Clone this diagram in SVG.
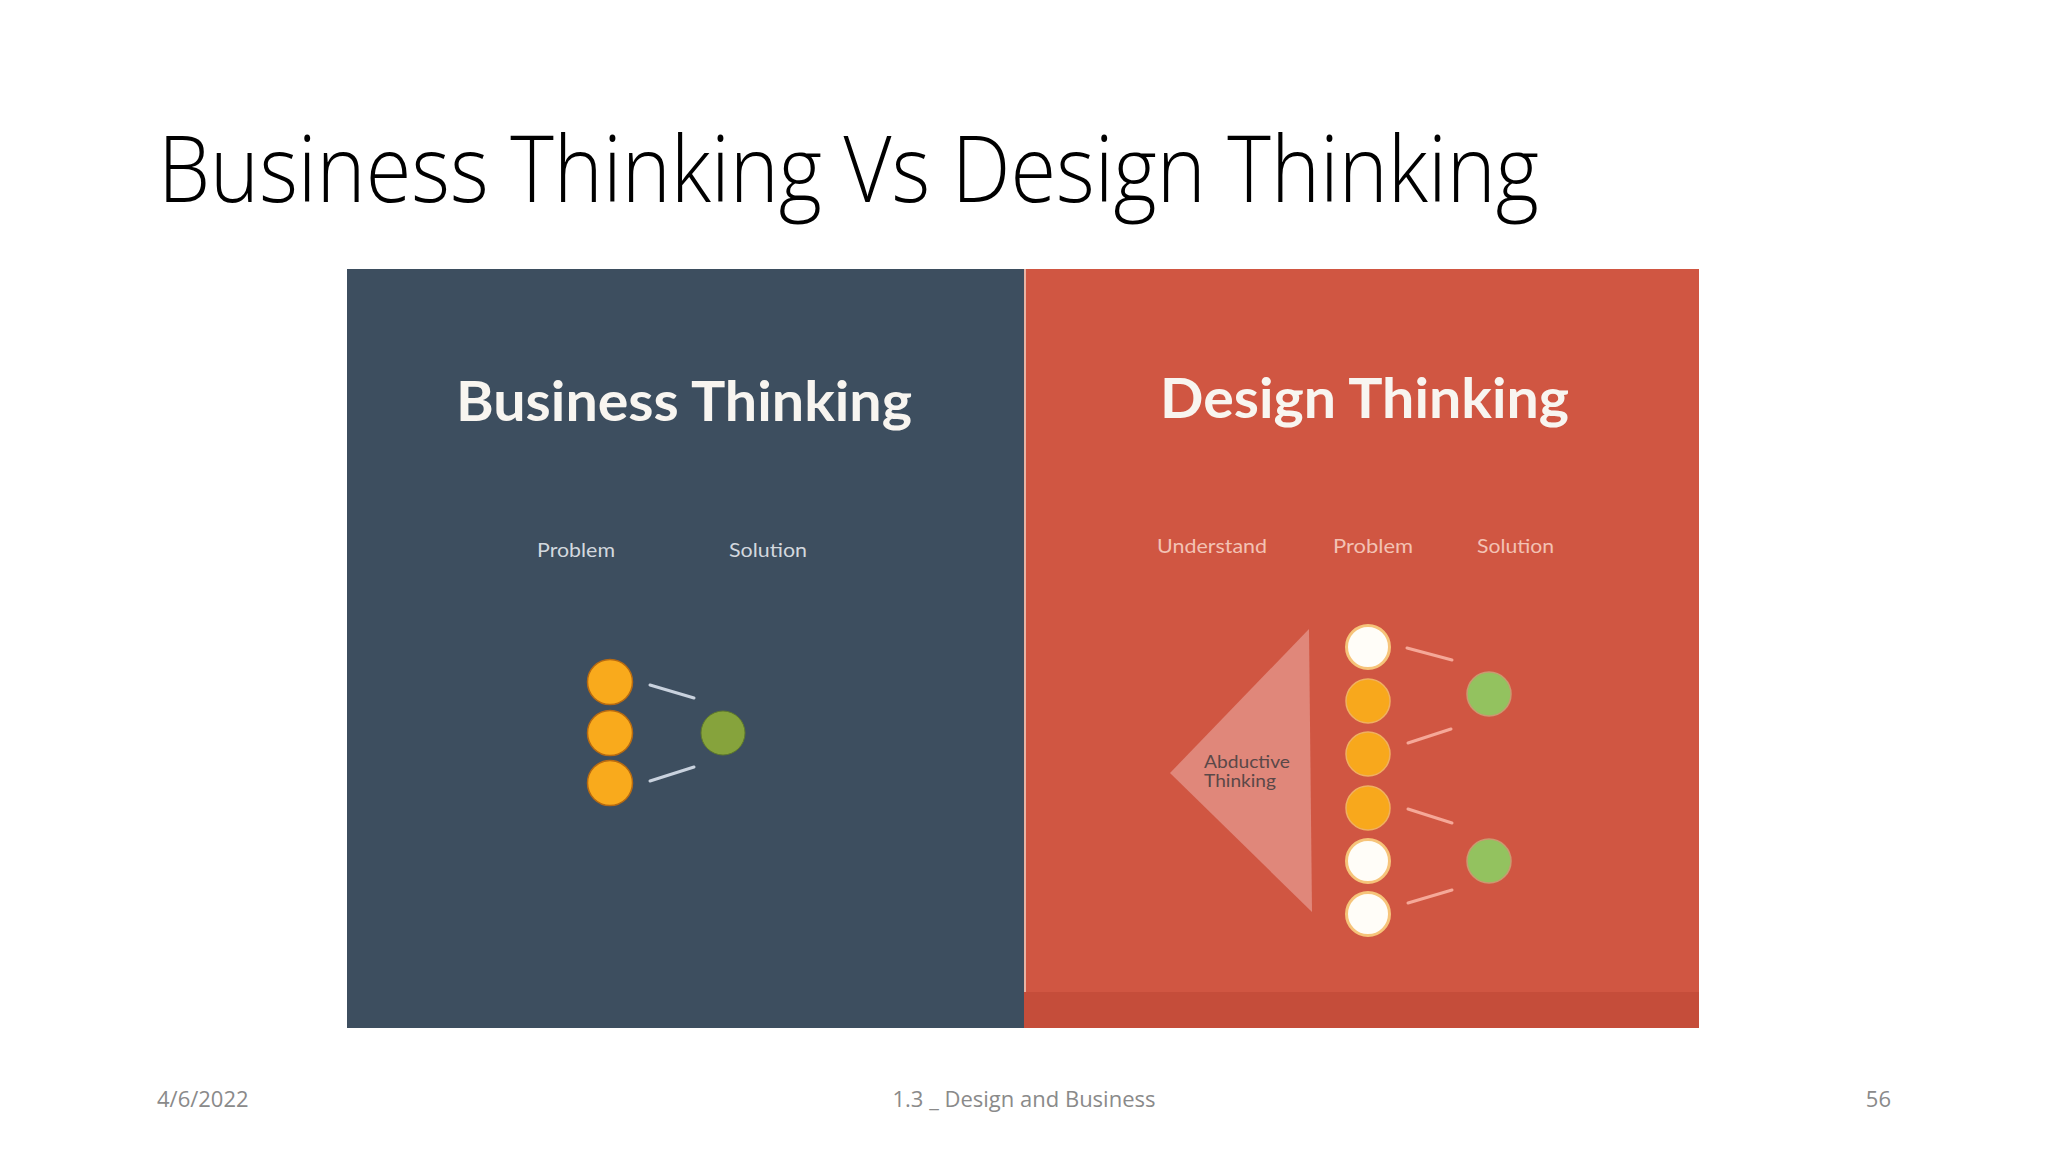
<svg xmlns="http://www.w3.org/2000/svg" width="2048" height="1152" viewBox="0 0 2048 1152">
<style>
.title{font-family:"Open Sans","Liberation Sans",sans-serif;font-weight:300;font-size:92px;fill:#000}
.foot{font-family:"Open Sans","Liberation Sans",sans-serif;font-size:22px;fill:#8a8a8a}
.ptitle{font-family:Lato,"Liberation Sans",sans-serif;font-weight:700;font-size:56px;fill:#f8f5f0}
.lblL{font-family:Lato,"Liberation Sans",sans-serif;font-size:20px;fill:#d3d8de}
.lblR{font-family:Lato,"Liberation Sans",sans-serif;font-size:20px;fill:#f3c2b4}
.orange{fill:#f9aa1c;stroke:#b86a10;stroke-width:1.5}
.orangeR{fill:#f8a81c;stroke:#f0b060;stroke-width:1.5}
.white{fill:#fffdf8;stroke:#f6c47a;stroke-width:3}
.greenL{fill:#86a33c;stroke:#5f7a2a;stroke-width:1}
.greenR{fill:#93c25f;stroke:#c99a70;stroke-width:1.5}
.lnL{stroke:#c9d2de;stroke-width:3;stroke-linecap:round}
.lnR{stroke:#f5a898;stroke-width:3;stroke-linecap:round}
.abd{font-family:Lato,"Liberation Sans",sans-serif;font-size:17px;fill:#5a4848}
</style>
<rect width="2048" height="1152" fill="#ffffff"/>
<g id="title"><text class="title" x="158" y="202" textLength="1381" lengthAdjust="spacingAndGlyphs">Business Thinking Vs Design Thinking</text></g>

<g id="panel-business">
<rect x="347" y="269" width="677" height="759" fill="#3d4e5f"/>
<text class="ptitle" x="456" y="421" textLength="456" lengthAdjust="spacingAndGlyphs">Business Thinking</text>
<text class="lblL" x="537" y="557" textLength="78" lengthAdjust="spacingAndGlyphs">Problem</text>
<text class="lblL" x="729" y="557" textLength="78" lengthAdjust="spacingAndGlyphs">Solution</text>
</g>

<g id="panel-design">
<rect x="1024" y="269" width="675" height="759" fill="#d05642"/>
<rect x="1024" y="992" width="675" height="36" fill="#c54d3a"/>
<line x1="1025" y1="269" x2="1025" y2="992" stroke="#e9b3a3" stroke-width="2"/>
<text class="ptitle" x="1160" y="418" textLength="409" lengthAdjust="spacingAndGlyphs">Design Thinking</text>
<text class="lblR" x="1157" y="553" textLength="110" lengthAdjust="spacingAndGlyphs">Understand</text>
<text class="lblR" x="1333" y="553" textLength="80" lengthAdjust="spacingAndGlyphs">Problem</text>
<text class="lblR" x="1477" y="553" textLength="77" lengthAdjust="spacingAndGlyphs">Solution</text>
</g>

<g id="node-abductive">
<polygon points="1170,773 1309,629 1312,912" fill="#e0877a"/>
<text class="abd" x="1204" y="768" textLength="86" lengthAdjust="spacingAndGlyphs">Abductive</text>
<text class="abd" x="1204" y="787" textLength="72" lengthAdjust="spacingAndGlyphs">Thinking</text>
</g>

<g id="connectors">
<line class="lnL" x1="650" y1="685" x2="694" y2="698"/>
<line class="lnL" x1="650" y1="781" x2="694" y2="767"/>
<line class="lnR" x1="1407" y1="648" x2="1452" y2="660"/>
<line class="lnR" x1="1408" y1="743" x2="1451" y2="729"/>
<line class="lnR" x1="1408" y1="809" x2="1452" y2="823"/>
<line class="lnR" x1="1408" y1="903" x2="1452" y2="890"/>
</g>

<g id="node-business-problems">
<circle class="orange" cx="610" cy="682" r="22.5"/>
<circle class="orange" cx="610" cy="733" r="22.5"/>
<circle class="orange" cx="610" cy="783" r="22.5"/>
</g>
<g id="node-business-solution">
<circle class="greenL" cx="723" cy="733" r="22"/>
</g>

<g id="node-design-problems">
<circle class="white" cx="1368" cy="647" r="21.5"/>
<circle class="orangeR" cx="1368" cy="701" r="22"/>
<circle class="orangeR" cx="1368" cy="754" r="22"/>
<circle class="orangeR" cx="1368" cy="808" r="22"/>
<circle class="white" cx="1368" cy="861" r="21.5"/>
<circle class="white" cx="1368" cy="914" r="21.5"/>
</g>
<g id="node-design-solutions">
<circle class="greenR" cx="1489" cy="694" r="22"/>
<circle class="greenR" cx="1489" cy="861" r="22"/>
</g>

<g id="footer">
<text class="foot" x="157" y="1107">4/6/2022</text>
<text class="foot" x="1024" y="1107" text-anchor="middle">1.3 _ Design and Business</text>
<text class="foot" x="1891" y="1107" text-anchor="end">56</text>
</g>
</svg>
